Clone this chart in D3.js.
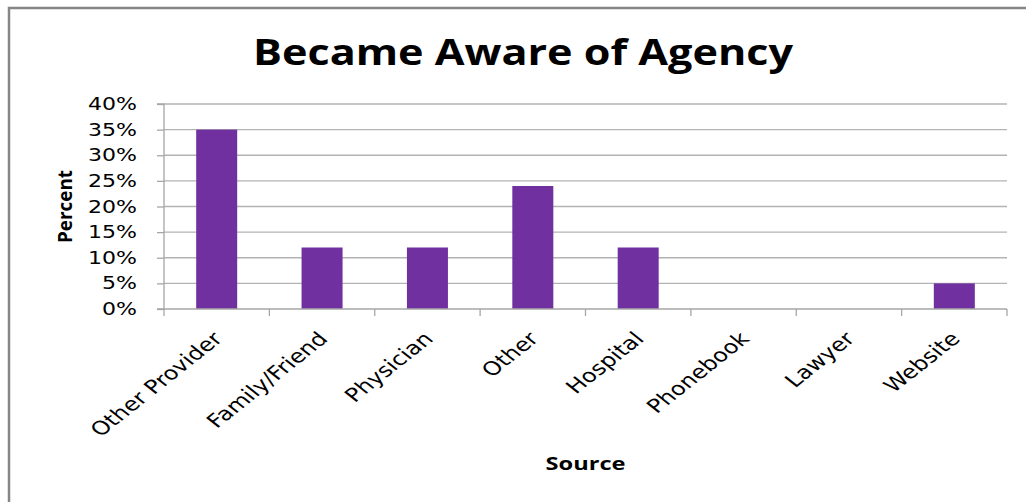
<!DOCTYPE html>
<html>
<head>
<meta charset="utf-8">
<script src="https://cdn.jsdelivr.net/npm/d3@7"></script>
<style>
  html, body { margin: 0; padding: 0; background: #fff; }
  svg { display: block; }
</style>
</head>
<body>
<svg id="chart" width="1026" height="502"></svg>
<script>
// chart data
const categories = ["Other Provider", "Family/Friend", "Physician", "Other", "Hospital", "Phonebook", "Lawyer", "Website"];
const percents = [35, 12, 12, 24, 12, 0, 0, 5];
const yTicks = [0, 5, 10, 15, 20, 25, 30, 35, 40];

const svg = d3.select("#chart");
const W = 1026, H = 502;
const margin = {top: 104, right: 19, bottom: 193, left: 164};
const plotW = W - margin.left - margin.right;
const plotH = H - margin.top - margin.bottom;
// the source picture is stretched sideways a little, text follows that
const stretch = 1.26;

// outer frame
svg.append("path")
  .attr("d", `M9,${H} V8 H${W}`)
  .attr("fill", "none")
  .attr("stroke", "#868686")
  .attr("stroke-width", 2.5);

const g = svg.append("g").attr("transform", `translate(${margin.left},${margin.top})`);

const x = d3.scaleBand().domain(categories).range([0, plotW]).paddingInner(0).paddingOuter(0);
const y = d3.scaleLinear().domain([0, 40]).range([plotH, 0]);

// gridlines
g.append("g")
  .selectAll("line")
  .data(yTicks.filter(d => d > 0))
  .join("line")
  .attr("x1", 0).attr("x2", plotW)
  .attr("y1", d => y(d)).attr("y2", d => y(d))
  .attr("stroke", "#b3b3b3")
  .attr("stroke-width", 1.3);

// y axis
const yAxis = g.append("g")
  .call(d3.axisLeft(y).tickValues(yTicks).tickFormat(d => d + "%").tickSize(7));
yAxis.select(".domain").attr("stroke", "#a6a6a6").attr("stroke-width", 1.3).attr("d", `M-7,${plotH}H0V0H-7`);
yAxis.selectAll(".tick line").attr("stroke", "#a6a6a6").attr("stroke-width", 1.3);
yAxis.selectAll(".tick text")
  .attr("x", -27 / stretch)
  .attr("transform", `scale(${stretch},1)`)
  .attr("font-family", "Verdana, 'DejaVu Sans', sans-serif")
  .attr("font-size", 17.5)
  .attr("fill", "#000");

// bars
const barW = 41;
g.append("g")
  .selectAll("rect")
  .data(categories.map((c, i) => ({c, v: percents[i]})))
  .join("rect")
  .attr("x", d => x(d.c) + x.bandwidth() / 2 - barW / 2)
  .attr("width", barW)
  .attr("y", d => y(d.v))
  .attr("height", d => plotH - y(d.v))
  .attr("fill", "#7030a0");

// x axis
const xAxis = g.append("g")
  .attr("transform", `translate(0,${plotH})`)
  .call(d3.axisBottom(x).tickSize(0).tickFormat(""));
xAxis.select(".domain").attr("stroke", "#a6a6a6").attr("stroke-width", 1.3).attr("d", `M0,0H${plotW}`);
xAxis.selectAll(".tick").remove();

// category boundary ticks
g.append("g")
  .selectAll("line")
  .data(d3.range(categories.length + 1))
  .join("line")
  .attr("x1", i => i * x.step()).attr("x2", i => i * x.step())
  .attr("y1", plotH).attr("y2", plotH + 7)
  .attr("stroke", "#a6a6a6")
  .attr("stroke-width", 1.3);

// rotated category labels
g.append("g")
  .selectAll("text")
  .data(categories)
  .join("text")
  .attr("transform", d => `translate(${x(d) + x.bandwidth() / 2 + 7},${plotH + 31}) scale(${stretch},1) rotate(-45)`)
  .attr("text-anchor", "end")
  .attr("font-family", "Verdana, 'DejaVu Sans', sans-serif")
  .attr("font-size", 19)
  .attr("fill", "#000")
  .text(d => d);

// title
svg.append("text")
  .attr("x", 523)
  .attr("y", 65)
  .attr("text-anchor", "middle")
  .attr("font-family", "'Open Sans', sans-serif")
  .attr("font-weight", "bold")
  .attr("font-size", 35)
  .attr("textLength", 540)
  .attr("lengthAdjust", "spacingAndGlyphs")
  .text("Became Aware of Agency");

// axis titles
svg.append("text")
  .attr("transform", `translate(72,${margin.top + plotH / 2}) rotate(-90)`)
  .attr("text-anchor", "middle")
  .attr("font-family", "'Open Sans', sans-serif")
  .attr("font-weight", "bold")
  .attr("font-size", 20)
  .attr("textLength", 73)
  .attr("lengthAdjust", "spacingAndGlyphs")
  .text("Percent");

svg.append("text")
  .attr("x", margin.left + plotW / 2)
  .attr("y", 470)
  .attr("text-anchor", "middle")
  .attr("font-family", "'Open Sans', sans-serif")
  .attr("font-weight", "bold")
  .attr("font-size", 18)
  .attr("textLength", 80)
  .attr("lengthAdjust", "spacingAndGlyphs")
  .text("Source");
</script>
</body>
</html>
